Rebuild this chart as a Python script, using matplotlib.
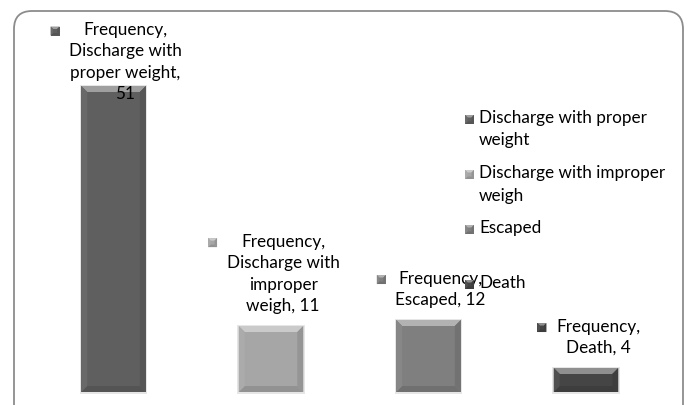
import textwrap

import matplotlib
matplotlib.use("Agg")
import matplotlib.pyplot as plt
import numpy as np
from matplotlib.colors import to_rgb
from matplotlib.patches import FancyBboxPatch, Polygon, Rectangle
from matplotlib.transforms import IdentityTransform

series_name = "Frequency"
categories = [
    "Discharge with proper weight",
    "Discharge with improper weigh",
    "Escaped",
    "Death",
]
values = [51, 11, 12, 4]
colors = ["#5f5f5f", "#a6a6a6", "#7f7f7f", "#454545"]

W, H = 689, 405
FONT = "Lato"
FS = 12.3
LS = 1.42
PX = IdentityTransform()


def mix(c, other, t):
    c = np.array(to_rgb(c))
    o = np.array(to_rgb(other))
    return tuple(c + (o - c) * t)


def bevel_rect(fig, x0, y0, x1, y1, color, b, zorder=3):
    # flat face plus four bevel strips, pixel coords (display, y up)
    fig.add_artist(Rectangle((x0, y0), x1 - x0, y1 - y0, transform=PX,
                             facecolor=color, edgecolor="none", zorder=zorder))
    strips = [
        ([(x0, y1), (x1, y1), (x1 - b, y1 - b), (x0 + b, y1 - b)], mix(color, "white", 0.4)),
        ([(x0, y0), (x1, y0), (x1 - b, y0 + b), (x0 + b, y0 + b)], mix(color, "black", 0.12)),
        ([(x0, y0), (x0, y1), (x0 + b, y1 - b), (x0 + b, y0 + b)], mix(color, "white", 0.06)),
        ([(x1, y0), (x1, y1), (x1 - b, y1 - b), (x1 - b, y0 + b)], mix(color, "black", 0.1)),
    ]
    for pts, c in strips:
        fig.add_artist(Polygon(pts, closed=True, transform=PX, facecolor=c,
                               edgecolor="none", zorder=zorder + 0.1))


fig = plt.figure(figsize=(W / 100, H / 100), dpi=100)
fig.patch.set_facecolor("white")

# chart area border (rounded, runs off the bottom)
fig.add_artist(FancyBboxPatch((14, -30), 669, H - 11 + 30, transform=PX,
                              boxstyle="round,pad=0,rounding_size=18",
                              facecolor="none", edgecolor="#8c8c8c", lw=1.3, zorder=1))

ax = fig.add_axes([34.75 / W, 13 / H, 630 / W, 360 / H])
ax.set_xlim(-0.5, len(values) - 0.5)
ax.set_ylim(0, 60)
ax.axis("off")

x = np.arange(len(values))
bars = ax.bar(x, values, width=0.41, color="none", edgecolor="none")

texts = []
for i, (rect, v) in enumerate(zip(bars, values)):
    (px0, py0), (px1, py1) = ax.transData.transform(
        [(rect.get_x(), 0), (rect.get_x() + rect.get_width(), v)])
    # soft halo
    fig.add_artist(Rectangle((px0 - 1.5, py0 - 1.5), px1 - px0 + 3, py1 - py0 + 3,
                             transform=PX, facecolor="#e6e6e6", edgecolor="none", zorder=2))
    bevel_rect(fig, px0, py0, px1, py1, colors[i], 6)

    label = "\n".join(textwrap.wrap(f"{series_name}, {categories[i]}, {v}", 14))
    cx = (px0 + px1) / 2 + 12
    nlines = label.count("\n") + 1
    top = py1 + 12 + nlines * 22
    if top > H - 18:
        # label pushed against the top of the chart, overlapping the bar
        t = fig.text(cx, H - 22, label, transform=PX, ha="center", va="top",
                     fontsize=FS, family=FONT, linespacing=LS, zorder=6)
    else:
        t = fig.text(cx, py1 + 12, label, transform=PX, ha="center", va="bottom",
                     fontsize=FS, family=FONT, linespacing=LS, zorder=6)
    texts.append(t)

fig.canvas.draw()
renderer = fig.canvas.get_renderer()
for i, t in enumerate(texts):
    bb = t.get_window_extent(renderer)
    mx, my = bb.x0 - 14, bb.y1 - 9
    bevel_rect(fig, mx - 4.5, my - 4.5, mx + 4.5, my + 4.5, colors[i], 2.5, zorder=7)

# legend
for i, cat in enumerate(categories):
    y = H - (118 + 55 * i)
    bevel_rect(fig, 465, y - 6, 474, y + 3, colors[i], 2.5, zorder=7)
    fig.text(479, y + 8, "\n".join(textwrap.wrap(cat, 23)), transform=PX,
             ha="left", va="top", fontsize=FS, family=FONT, linespacing=1.5, zorder=6)

fig.savefig("out.png", dpi=100)
